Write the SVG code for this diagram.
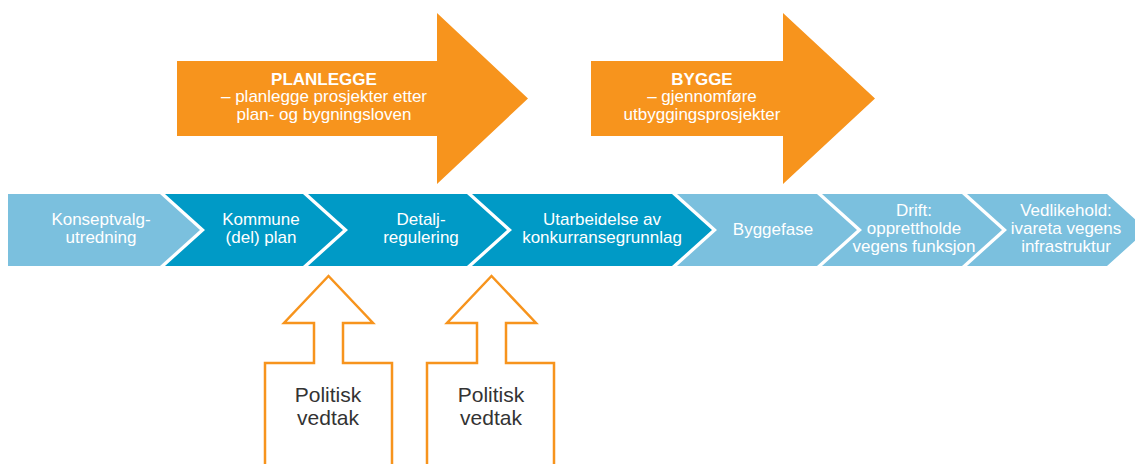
<svg xmlns="http://www.w3.org/2000/svg" width="1135" height="464" viewBox="0 0 1135 464">
<style>
.light{fill:#7bc0de}
.dark{fill:#009ac6}
.bt{font-family:"Liberation Sans",Arial,sans-serif;font-size:17px;fill:#ffffff;text-anchor:middle}
.ot{font-family:"Liberation Sans",Arial,sans-serif;font-size:17px;fill:#ffffff;text-anchor:middle}
.ob{font-weight:bold}
.big{fill:#f7941d}
.pv{fill:none;stroke:#f7941d;stroke-width:2.5}
.pt{font-family:"Liberation Sans",Arial,sans-serif;font-size:21px;fill:#333333;text-anchor:middle}
</style>
<rect width="1135" height="464" fill="#ffffff"/>
<g id="planlegge">
<polygon class="big" points="177,61 437,61 437,13 528,98.5 437,184 437,136 177,136"/>
<text class="ot ob" x="324" y="85">PLANLEGGE</text>
<text class="ot" x="324" y="102">– planlegge prosjekter etter</text>
<text class="ot" x="324" y="120">plan- og bygningsloven</text>
</g>
<g id="bygge">
<polygon class="big" points="591,61 783,61 783,13 875,98.5 783,184 783,136 591,136"/>
<text class="ot ob" x="702" y="85">BYGGE</text>
<text class="ot" x="702" y="102">– gjennomføre</text>
<text class="ot" x="702" y="120">utbyggingsprosjekter</text>
</g>
<g id="konseptvalg">
<polygon class="light" points="8,194 160,194 200,230 160,266 8,266"/>
<text class="bt" x="101" y="225">Konseptvalg-</text>
<text class="bt" x="101" y="243">utredning</text>
</g>
<g id="kommuneplan">
<polygon class="dark" points="165,194 303,194 343,230 303,266 165,266 205,230"/>
<text class="bt" x="261" y="225">Kommune</text>
<text class="bt" x="261" y="243">(del) plan</text>
</g>
<g id="detaljregulering">
<polygon class="dark" points="308,194 467,194 507,230 467,266 308,266 348,230"/>
<text class="bt" x="421" y="225">Detalj-</text>
<text class="bt" x="421" y="243">regulering</text>
</g>
<g id="konkurransegrunnlag">
<polygon class="dark" points="472,194 672,194 712,230 672,266 472,266 512,230"/>
<text class="bt" x="602" y="225">Utarbeidelse av</text>
<text class="bt" x="602" y="243">konkurransegrunnlag</text>
</g>
<g id="byggefase">
<polygon class="light" points="677,194 817,194 857,230 817,266 677,266 717,230"/>
<text class="bt" x="773" y="235">Byggefase</text>
</g>
<g id="drift">
<polygon class="light" points="822,194 962,194 1002,230 962,266 822,266 862,230"/>
<text class="bt" x="914" y="216">Drift:</text>
<text class="bt" x="914" y="234">opprettholde</text>
<text class="bt" x="914" y="252">vegens funksjon</text>
</g>
<g id="vedlikehold">
<polygon class="light" points="967,194 1107,194 1147,230 1107,266 967,266 1007,230"/>
<text class="bt" x="1066" y="216">Vedlikehold:</text>
<text class="bt" x="1066" y="234">ivareta vegens</text>
<text class="bt" x="1066" y="252">infrastruktur</text>
</g>
<g id="connectors">
<path class="pv" d="M265,470 V363 H314 V323 H284 L328.5,276 L373,323 H343 V363 H392 V470"/>
<path class="pv" d="M427,470 V363 H477 V323 H447 L491.5,276 L536,323 H506 V363 H554 V470"/>
</g>
<g id="vedtak1">
<text class="pt" x="328" y="402">Politisk</text>
<text class="pt" x="328" y="425">vedtak</text>
</g>
<g id="vedtak2">
<text class="pt" x="491" y="402">Politisk</text>
<text class="pt" x="491" y="425">vedtak</text>
</g>
</svg>
